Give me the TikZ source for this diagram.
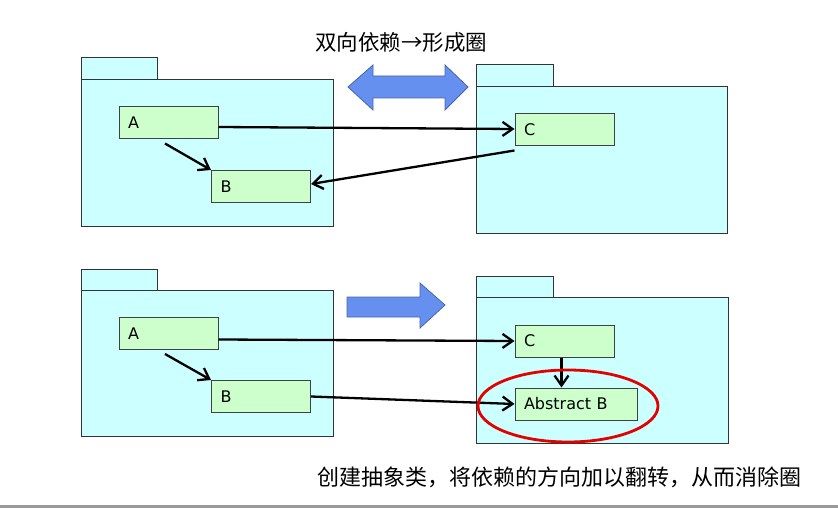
\documentclass[tikz,border=0pt]{standalone}
\usepackage{fontspec}
\newfontfamily\cjk{Noto Sans CJK SC}
\newfontfamily\umlfont{DejaVu Sans}
\usetikzlibrary{arrows.meta}
\definecolor{pkgfill}{HTML}{CCFFFF}
\definecolor{clsfill}{HTML}{CCFFCC}
\definecolor{blockblue}{HTML}{6690F0}
\tikzset{
  pkg/.style={draw=black!80, fill=pkgfill, line width=1pt},
  klass/.style={draw=black!75, fill=clsfill, line width=1pt, minimum height=32pt,
    inner xsep=9pt, align=left, text width=#1, font=\umlfont\fontsize{16}{19}\selectfont},
  klass/.default=81pt,
  dep/.style={line width=2.3pt, -{Straight Barb[length=10pt,width=14pt,line width=2.3pt]}},
  block/.style={fill=blockblue, draw=blockblue!70!black, line width=0.8pt}
}
\begin{document}
\begin{tikzpicture}[x=1pt,y=-1pt]
\useasboundingbox (0,0) rectangle (838,508);
\fill[black!40] (0,505) rectangle (838,508);
% title
\node[font=\cjk\fontsize{21.5}{24}\selectfont] (title) at (401,42) {双向依赖→形成圈};
% top: packages
\draw[pkg] (81,58) rectangle (157,80);
\draw[pkg] (81,80) rectangle (333,226);
\draw[pkg] (476,65) rectangle (553,87);
\draw[pkg] (476,87) rectangle (727,233);
% top: double block arrow
\draw[block] (348,87) -- (373,65) -- (373,76) -- (445,76) -- (445,65) -- (468,87)
  -- (445,110) -- (445,98) -- (373,98) -- (373,110) -- cycle;
% top: classes
\node[klass] (a1) at (168.5,123) {A};
\node[klass] (b1) at (261,186.5) {B};
\node[klass] (c1) at (564.5,130) {C};
\draw[dep] ([yshift=-4pt]a1.east) -- ([yshift=1pt]c1.west);
\draw[dep] ([xshift=-3.5pt,yshift=-4pt]a1.south) -- (b1.north west);
\draw[dep] ([yshift=-4pt]c1.south west) -- ([yshift=2.5pt]b1.east);
% bottom: packages
\draw[pkg] (81,269) rectangle (157,290);
\draw[pkg] (81,290) rectangle (333,436);
\draw[pkg] (476,276) rectangle (553,297);
\draw[pkg] (476,297) rectangle (728,443);
% bottom: block arrow
\draw[block] (347,297) -- (420,297) -- (420,283) -- (445,305) -- (420,328)
  -- (420,317) -- (347,317) -- cycle;
% bottom: classes
\node[klass] (a2) at (168.5,333.5) {A};
\node[klass] (b2) at (261,396.5) {B};
\node[klass] (c2) at (564.5,341) {C};
\node[klass=104pt] (ab) at (576,404) {Abstract B};
\draw[dep] ([yshift=-6pt]a2.east) -- (c2.west);
\draw[dep] ([xshift=-3.5pt,yshift=-4pt]a2.south) -- (b2.north west);
\draw[dep] ([xshift=-3pt]c2.south) -- ([xshift=-3pt]c2.south |- ab.north);
\draw[dep] (b2.east) -- (ab.west);
\draw[red!90!black, line width=2.8pt] (568,406) ellipse [x radius=90, y radius=36];
% caption
\node[font=\cjk\fontsize{22}{24}\selectfont] (caption) at (559,477)
  {创建抽象类，将依赖的方向加以翻转，从而消除圈};
\end{tikzpicture}
\end{document}
